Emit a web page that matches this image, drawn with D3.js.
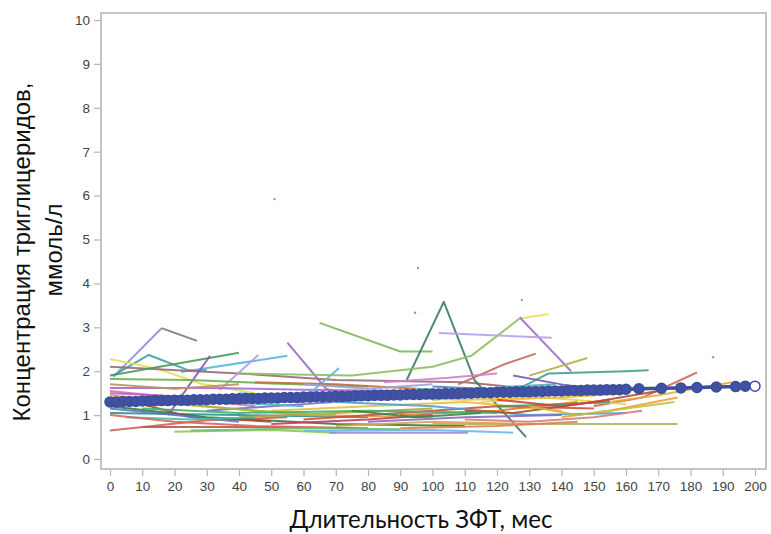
<!DOCTYPE html>
<html>
<head>
<meta charset="utf-8">
<script src="https://cdn.jsdelivr.net/npm/d3@7/dist/d3.min.js"></script>
<style>
  html, body { margin: 0; padding: 0; background: #fff; }
  svg { display: block; }
</style>
</head>
<body>
<svg id="chart" width="771" height="534"></svg>
<script>
// Axis ticks
const xTicks = [0, 10, 20, 30, 40, 50, 60, 70, 80, 90, 100, 110, 120, 130, 140, 150, 160, 170, 180, 190, 200];
const yTicks = [0, 1, 2, 3, 4, 5, 6, 7, 8, 9, 10];

const xTitle = "Длительность ЗФТ, мес";
const yTitle = ["Концентрация триглицеридов,", "ммоль/л"];

// Individual patient trajectories: [month, triglycerides mmol/l]
const subjectSeries = [
  [[1, 1.87], [16, 2.98]],
  [[16, 2.98], [27, 2.69]],
  [[1, 1.9], [12, 2.37], [24, 2.03], [30, 2.02]],
  [[22, 1.98], [55, 2.35]],
  [[0, 2.28], [15, 2.05], [28, 1.72], [45, 1.5]],
  [[0, 2.1], [40, 1.95], [70, 1.8], [110, 1.75], [130, 1.6]],
  [[0, 1.9], [40, 2.42]],
  [[18, 1.0], [31, 2.35]],
  [[34, 1.57], [46, 2.37]],
  [[0, 1.82], [25, 1.8], [50, 1.72], [80, 1.65]],
  [[0, 1.62], [30, 1.62], [60, 1.58], [90, 1.55]],
  [[0, 0.65], [30, 0.88], [55, 0.95]],
  [[0, 1.05], [40, 1.0], [80, 0.95]],
  [[0, 1.55], [20, 1.4], [45, 1.2]],
  [[0, 1.45], [30, 1.2], [60, 1.0], [100, 0.95]],
  [[0, 1.2], [30, 0.95], [70, 0.8], [110, 0.75]],
  [[5, 1.35], [25, 0.95], [50, 0.85]],
  [[0, 1.15], [20, 1.0], [40, 0.85]],
  [[20, 0.62], [50, 0.66], [70, 0.6]],
  [[10, 0.73], [50, 0.73], [80, 0.7]],
  [[68, 0.6], [111, 0.6]],
  [[60, 0.64], [100, 0.66], [125, 0.6]],
  [[100, 0.8], [176, 0.8]],
  [[55, 2.65], [67, 1.6], [78, 1.35]],
  [[62, 1.5], [71, 2.07]],
  [[65, 3.1], [90, 2.45], [100, 2.45]],
  [[92, 1.8], [103.5, 3.58], [113, 1.8], [129, 0.5]],
  [[40, 1.95], [75, 1.9], [100, 2.1], [112, 2.35], [127, 3.2]],
  [[127, 3.2], [136, 3.3]],
  [[127, 3.23], [143, 2.0]],
  [[102, 2.87], [137, 2.76]],
  [[108, 1.7], [122, 2.15], [132, 2.4]],
  [[130, 1.9], [148, 2.3]],
  [[128, 1.65], [136, 1.95], [160, 2.0], [167, 2.02]],
  [[150, 1.2], [165, 1.4], [182, 1.97]],
  [[150, 1.25], [170, 1.45], [185, 1.65], [193, 1.75]],
  [[140, 0.95], [155, 1.1], [176, 1.4]],
  [[50, 1.1], [80, 1.2], [110, 1.3], [140, 1.1]],
  [[60, 0.9], [90, 1.05], [120, 1.2], [150, 1.15]],
  [[70, 1.3], [100, 1.2], [130, 1.0], [160, 1.05]],
  [[80, 0.85], [110, 0.95], [140, 1.0]],
  [[90, 1.0], [120, 1.1], [145, 1.3]],
  [[100, 1.35], [125, 1.5], [150, 1.45]],
  [[40, 0.95], [70, 1.05], [100, 1.15]],
  [[30, 1.1], [60, 1.25], [90, 1.4], [115, 1.5]],
  [[110, 0.9], [130, 0.85], [150, 0.95], [165, 1.1]],
  [[85, 1.75], [105, 1.85], [120, 1.95]],
  [[95, 1.6], [110, 1.55], [125, 1.65], [138, 1.7]],
  [[115, 1.3], [135, 1.4], [160, 1.25]],
  [[120, 1.2], [140, 1.25], [155, 1.3]],
  [[60, 1.45], [85, 1.5], [105, 1.55]],
  [[45, 1.75], [70, 1.7], [95, 1.6]],
  [[135, 1.45], [150, 1.55], [165, 1.6]],
  [[110, 1.1], [125, 1.05], [150, 1.3], [170, 1.55]],
  [[70, 0.75], [100, 0.85], [130, 0.8]],
  [[125, 1.9], [140, 1.7], [150, 1.6]],
  [[10, 1.4], [35, 1.3], [60, 1.2]],
  [[20, 1.25], [45, 1.1], [70, 1.0]],
  [[5, 0.95], [25, 0.9], [45, 0.95]],
  [[50, 0.8], [80, 0.9], [100, 1.0]],
  [[0, 1.5], [15, 1.45], [35, 1.35], [60, 1.3]],
  [[0, 1.0], [20, 0.85], [45, 0.75], [75, 0.7]],
  [[10, 1.15], [40, 1.05], [80, 1.1], [120, 1.05]],
  [[25, 0.65], [60, 0.7], [90, 0.68]],
  [[80, 1.4], [110, 1.35], [140, 1.4], [160, 1.5]],
  [[90, 0.7], [120, 0.75], [145, 0.85]],
  [[130, 1.2], [145, 1.0], [160, 1.15], [175, 1.3]],
  [[100, 1.65], [115, 1.6], [130, 1.55]],
  [[60, 1.7], [80, 1.6], [100, 1.7]],
  [[0, 1.7], [20, 1.6], [40, 1.7]],
  [[40, 1.5], [60, 1.4], [80, 1.45]],
  [[120, 1.35], [140, 1.2], [155, 1.35]],
  [[75, 1.1], [95, 0.95], [115, 1.05]]
];

const subjectColors = [
  "#8c8fd6", "#7a7a7a", "#3fa3a3", "#5ab4e0", "#e8e05a", "#9a6a7a", "#4a9a5a", "#8a5ab8",
  "#b89ae0", "#6ab04a", "#a86ad0", "#c8645a", "#2f8f8f", "#d070b0", "#e89a40", "#2e7d32",
  "#b5443a", "#5a78c8", "#8fc85a", "#b06040", "#9a8ad8", "#6ab8e8", "#a8b860", "#9b6bc9",
  "#6ab0e8", "#7ab85a", "#3d7a6a", "#8cc063", "#e6e04a", "#a070c8", "#b8a0e8", "#c06850",
  "#b0b040", "#40a090", "#d06a60", "#e8a840", "#f0a040", "#e0c040", "#d05040", "#50a0d0",
  "#8a6ac0", "#e07a30", "#6bb040", "#c0a030", "#7070c0", "#d08080", "#d080d0", "#50b0b0",
  "#f0d040", "#40a060", "#e0a0e0", "#c07040", "#e0c060", "#b05030", "#e0a050", "#7a5ab0",
  "#50b0d0", "#a0c040", "#40c0a0", "#c04060", "#c060c0", "#e06060", "#40b070", "#70c070",
  "#f0c030", "#e08050", "#c0c040", "#5080c0", "#a0a0e0", "#c09060", "#60c0c0", "#d04040",
  "#3a8a4a"
];

// Isolated single measurements
const singlePoints = [[51, 5.92], [95.5, 4.35], [94.6, 3.33], [127.7, 3.62], [187, 2.32]];

// Mean trend with markers
const trendMonths = [0, 2, 4, 6, 8, 10, 12, 14, 16, 18, 20, 22, 24, 26, 28, 30, 32, 34, 36, 38,
  40, 42, 44, 46, 48, 50, 52, 54, 56, 58, 60, 62, 64, 66, 68, 70, 72, 74, 76, 78,
  80, 82, 84, 86, 88, 90, 92, 94, 96, 98, 100, 102, 104, 106, 108, 110, 112, 114, 116, 118,
  120, 122, 124, 126, 128, 130, 132, 134, 136, 138, 140, 142, 144, 146, 148, 150, 152, 154, 156, 158,
  160, 164, 171, 177, 182, 188, 194, 197, 200];
const trendValues = [1.30, 1.30, 1.31, 1.31, 1.31, 1.32, 1.32, 1.33, 1.33, 1.33, 1.34, 1.34, 1.34, 1.35, 1.35, 1.35, 1.36, 1.36, 1.36, 1.37,
  1.37, 1.38, 1.38, 1.38, 1.39, 1.39, 1.39, 1.40, 1.40, 1.40, 1.41, 1.41, 1.42, 1.42, 1.42, 1.43, 1.43, 1.43, 1.44, 1.44,
  1.44, 1.45, 1.45, 1.45, 1.46, 1.46, 1.47, 1.47, 1.47, 1.48, 1.48, 1.48, 1.49, 1.49, 1.49, 1.50, 1.50, 1.51, 1.51, 1.51,
  1.52, 1.52, 1.52, 1.53, 1.53, 1.53, 1.54, 1.54, 1.55, 1.55, 1.55, 1.56, 1.56, 1.56, 1.57, 1.57, 1.57, 1.58, 1.58, 1.58,
  1.59, 1.60, 1.61, 1.62, 1.63, 1.64, 1.65, 1.66, 1.66];

const svg = d3.select("#chart");
const frame = { left: 101, top: 13, right: 766, bottom: 469 };

const x = d3.scaleLinear().domain([0, 200]).range([110, 755]);
const y = d3.scaleLinear().domain([0, 10]).range([459, 20]);

// Plot frame
svg.append("rect")
  .attr("x", frame.left).attr("y", frame.top)
  .attr("width", frame.right - frame.left).attr("height", frame.bottom - frame.top)
  .attr("fill", "#fff").attr("stroke", "#c4c4c4").attr("stroke-width", 2);

// Axes
const tickFont = "'Liberation Sans', Arial, sans-serif";
const yAxis = svg.append("g")
  .attr("transform", `translate(${frame.left - 1},0)`)
  .call(d3.axisLeft(y).tickValues(yTicks).tickSize(6).tickPadding(4).tickFormat(d3.format("d")));
const xAxis = svg.append("g")
  .attr("transform", `translate(0,${frame.bottom + 1})`)
  .call(d3.axisBottom(x).tickValues(xTicks).tickSize(6).tickPadding(5).tickFormat(d3.format("d")));
[yAxis, xAxis].forEach(g => {
  g.select(".domain").remove();
  g.selectAll(".tick line").attr("stroke", "#b4b4b4").attr("stroke-width", 1.2);
  g.selectAll(".tick text").attr("fill", "#444").style("font-family", tickFont).style("font-size", "13.5px");
});

// Patient lines
const line = d3.line().x(d => x(d[0])).y(d => y(d[1]));
svg.append("g").selectAll("path")
  .data(subjectSeries)
  .join("path")
  .attr("d", line)
  .attr("fill", "none")
  .attr("stroke", (d, i) => subjectColors[i % subjectColors.length])
  .attr("stroke-width", 2)
  .attr("stroke-opacity", 0.9)
  .attr("stroke-linejoin", "round");

svg.append("g").selectAll("circle")
  .data(singlePoints)
  .join("circle")
  .attr("cx", d => x(d[0])).attr("cy", d => y(d[1]))
  .attr("r", 1.2).attr("fill", "#999");

// Mean trend
const trend = trendMonths.map((m, i) => [m, trendValues[i]]);
const trendG = svg.append("g");
trendG.append("path")
  .datum(trend)
  .attr("d", line)
  .attr("fill", "none")
  .attr("stroke", "#3b4d9e")
  .attr("stroke-width", 3.5);
trendG.selectAll("circle")
  .data(trend)
  .join("circle")
  .attr("cx", d => x(d[0])).attr("cy", d => y(d[1]))
  .attr("r", 5)
  .attr("fill", (d, i) => i === trend.length - 1 ? "#fff" : "#4152a2")
  .attr("stroke", "#3b4d9e")
  .attr("stroke-width", 1.5);

// Axis titles
const titleFont = "'Liberation Sans', Arial, sans-serif";
svg.append("text")
  .attr("transform", "translate(30,252) rotate(-90)")
  .attr("text-anchor", "middle")
  .style("font-family", titleFont).style("font-size", "24px").attr("fill", "#111")
  .text(yTitle[0]);
svg.append("text")
  .attr("transform", "translate(62,250) rotate(-90)")
  .attr("text-anchor", "middle")
  .style("font-family", titleFont).style("font-size", "24px").attr("fill", "#111")
  .text(yTitle[1]);

const xt = svg.append("text")
  .attr("x", 421).attr("y", 528)
  .attr("text-anchor", "middle")
  .style("font-family", "Lato, 'Open Sans', sans-serif").style("font-size", "24px").attr("fill", "#111")
  .text(xTitle);
// fit the x title to its intended span
const targetW = 263;
const w0 = xt.node().getComputedTextLength();
xt.style("font-size", (24 * targetW / w0).toFixed(2) + "px");
</script>
</body>
</html>
